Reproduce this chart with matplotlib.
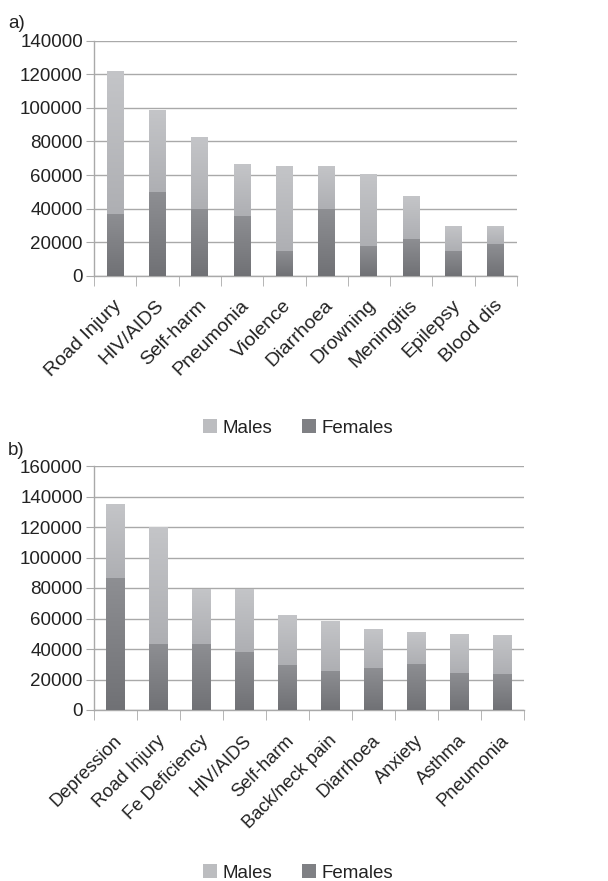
import numpy as np
import matplotlib
matplotlib.use("Agg")
import matplotlib.pyplot as plt
from matplotlib.colors import LinearSegmentedColormap
from matplotlib.patches import Patch
from matplotlib.transforms import ScaledTranslation

plt.rcParams['font.family'] = ['Liberation Sans', 'DejaVu Sans']

# ---- data ----
cats_a = ["Road Injury", "HIV/AIDS", "Self-harm", "Pneumonia", "Violence",
          "Diarrhoea", "Drowning", "Meningitis", "Epilepsy", "Blood dis"]
total_a = [122000, 98500, 82500, 66500, 65500, 65500, 60500, 47500, 30000, 30000]
females_a = [37000, 50000, 39700, 35700, 15000, 39700, 17800, 22000, 15000, 19000]
males_a = [t - f for t, f in zip(total_a, females_a)]

cats_b = ["Depression", "Road Injury", "Fe Deficiency", "HIV/AIDS", "Self-harm",
          "Back/neck pain", "Diarrhoea", "Anxiety", "Asthma", "Pneumonia"]
total_b = [135000, 120000, 79600, 79600, 62300, 58400, 53100, 51100, 49800, 49200]
females_b = [86600, 43300, 43300, 38000, 29500, 25600, 27500, 30200, 24300, 23600]
males_b = [t - f for t, f in zip(total_b, females_b)]

ymax_a, ystep_a = 140000, 20000
ymax_b, ystep_b = 160000, 20000

# ---- styles ----
male_cmap = LinearSegmentedColormap.from_list("m", ["#aeafb3", "#c4c5c8"])
fem_cmap = LinearSegmentedColormap.from_list("f", ["#707175", "#8e8f93"])
grid_c = "#a9a9a9"
text_c = "#222222"
FS = 13.5
grad = np.linspace(0, 1, 256).reshape(-1, 1)

W, H = 608, 881
fig = plt.figure(figsize=(W / 100, H / 100), dpi=100)


def gradient_bars(ax, bars, cmap):
    for b in bars:
        x0, y0 = b.get_x(), b.get_y()
        w, h = b.get_width(), b.get_height()
        im = ax.imshow(grad, cmap=cmap, origin="lower", aspect="auto",
                       extent=(x0, x0 + w, y0, y0 + h), zorder=3,
                       interpolation="bicubic")
        im.set_clip_path(b)
        b.set_facecolor("none")


def panel(rect, cats, fem, mal, ymax, ystep, width, letter, letter_y, leg_y,
          xfs, xpad):
    ax = fig.add_axes(rect)
    x = np.arange(len(cats))
    bf = ax.bar(x, fem, width=width, color="#808185", zorder=3, linewidth=0)
    bm = ax.bar(x, mal, bottom=fem, width=width, color="#babbbe", zorder=3,
                linewidth=0)
    gradient_bars(ax, bf, fem_cmap)
    gradient_bars(ax, bm, male_cmap)
    ax.set_xlim(-0.5, len(cats) - 0.5)
    ax.set_ylim(0, ymax)
    ax.set_yticks(np.arange(0, ymax + 1, ystep))
    ax.set_yticklabels([f"{v:d}" for v in np.arange(0, ymax + 1, ystep)])
    ax.yaxis.grid(True, color=grid_c, linewidth=1.0, zorder=0)
    ax.set_axisbelow(True)
    for s in ["top", "right"]:
        ax.spines[s].set_visible(False)
    for s in ["left", "bottom"]:
        ax.spines[s].set_color(grid_c)
        ax.spines[s].set_linewidth(1.0)
    ax.tick_params(axis="y", length=6, color=grid_c, labelsize=FS,
                   labelcolor=text_c, pad=2)
    # category boundary ticks
    ax.set_xticks(np.arange(-0.5, len(cats) - 0.5 + 0.01, 1), minor=True)
    ax.tick_params(axis="x", which="minor", length=7, color=grid_c,
                   direction="out")
    ax.set_xticks(x)
    ax.set_xticklabels(cats, rotation=45, ha="right", rotation_mode="anchor")
    ax.tick_params(axis="x", which="major", length=0, labelsize=xfs,
                   labelcolor=text_c, pad=xpad)
    off = ScaledTranslation(-2 / 100, 0, fig.dpi_scale_trans)
    for lbl in ax.get_xticklabels():
        lbl.set_transform(lbl.get_transform() + off)
    fig.text(8 / W, 1 - letter_y / H, letter, fontsize=FS, color=text_c,
             va="center", ha="left")
    handles = [Patch(facecolor="#bcbdc0", edgecolor="none", label="Males"),
               Patch(facecolor="#7f8084", edgecolor="none", label="Females")]
    fig.legend(handles=handles, loc="center", ncol=2, frameon=False,
               bbox_to_anchor=(298 / W, 1 - leg_y / H), fontsize=FS,
               handlelength=0.75, handleheight=0.75, handletextpad=0.3,
               columnspacing=1.6, labelcolor=text_c)
    return ax


panel([94 / W, 1 - 276 / H, 423 / W, 235.5 / H], cats_a, females_a, males_a,
      ymax_a, ystep_a, 0.40, "a)", 23, 428, 14.0, 15)
panel([94 / W, 1 - 710 / H, 430 / W, 244 / H], cats_b, females_b, males_b,
      ymax_b, ystep_b, 0.42, "b)", 450, 873, 13.2, 16)

fig.savefig("out.png", dpi=100)
